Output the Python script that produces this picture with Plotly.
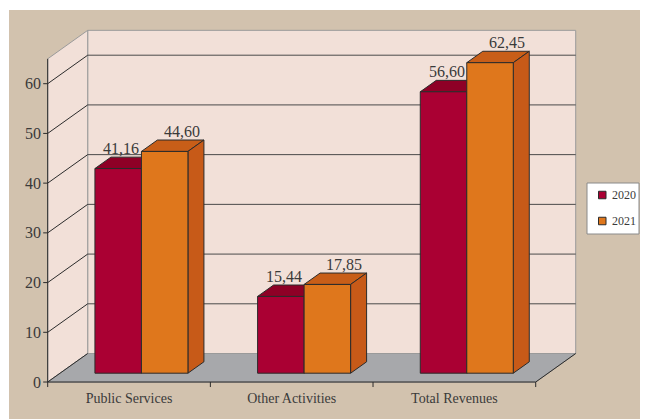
import plotly.graph_objects as go

categories = ["Public Services", "Other Activities", "Total Revenues"]
years = ["2020", "2021"]
revenue_2020 = [41.16, 15.44, 56.60]
revenue_2021 = [44.60, 17.85, 62.45]
y_ticks = [0, 10, 20, 30, 40, 50, 60]
y_max = 65

front_colors = ["#aa0033", "#df771c"]
top_colors = ["#8e0026", "#c85e18"]
side_colors = ["#84001f", "#c75a18"]
WALL = "#f2e0d8"
FLOOR = "#a7a8ab"
BEIGE = "#d2c2ae"
INK = "#3a3a3a"
GRID = "#4a4a4a"
EDGE = "#9a9a9a"
FONT = "Liberation Serif"

# the page body adds an 8px offset, so the figure is 8px smaller than the window
OFF = 8
W, H = 640, 411
margin = dict(l=34, r=70, t=21, b=31)
x_range = [-0.535, 2.76]
y_range = [-1.2, 71]
plot_w = W - margin["l"] - margin["r"]
plot_h = H - margin["t"] - margin["b"]
sx = plot_w / (x_range[1] - x_range[0])
sy = plot_h / (y_range[1] - y_range[0])

# 3d depth of the chart box, in data units
DX = 40 / sx
DY = 28.5 / sy
f0, f1 = 0.31, 0.71          # front / back face of the bars (fraction of depth)
bw = 46.5 / sx               # bar width
d, e = (f1 - f0) * DX, (f1 - f0) * DY
base = f0 * DY


def px_x(p):
    return (p - OFF - margin["l"]) / plot_w


def px_y(p):
    return (H - margin["b"] - (p - OFF)) / plot_h


def poly(pts, fill, line="#2b2b2b", width=1):
    path = "M " + " L ".join(f"{x},{y}" for x, y in pts) + " Z"
    return dict(type="path", path=path, fillcolor=fill, line=dict(color=line, width=width),
                xref="x", yref="y", layer="below")


def seg(x0, y0, x1, y1, color, width=1):
    return dict(type="line", x0=x0, y0=y0, x1=x1, y1=y1, line=dict(color=color, width=width),
                xref="x", yref="y", layer="below")


shapes = []
# page background
shapes.append(dict(type="rect", xref="paper", yref="paper", x0=px_x(9), x1=px_x(W + OFF + 2),
                   y0=px_y(H + OFF + 2), y1=px_y(10), fillcolor=BEIGE, line=dict(width=0),
                   layer="below"))

# walls and floor
shapes.append(poly([(-0.5 + DX, DY), (2.5 + DX, DY), (2.5 + DX, y_max + DY), (-0.5 + DX, y_max + DY)],
                   WALL, line=EDGE))
shapes.append(poly([(-0.5, 0), (-0.5, y_max), (-0.5 + DX, y_max + DY), (-0.5 + DX, DY)], WALL, line=EDGE))
shapes.append(poly([(-0.5, 0), (2.5, 0), (2.5 + DX, DY), (-0.5 + DX, DY)], FLOOR, line=EDGE))

for v in y_ticks:
    if v > 0:
        shapes.append(seg(-0.5 + DX, v + DY, 2.5 + DX, v + DY, GRID))
    shapes.append(seg(-0.5, v, -0.5 + DX, v + DY, "#2b2b2b"))
    shapes.append(seg(-0.5 - 4.5 / sx, v, -0.5, v, "#2b2b2b"))

shapes.append(seg(-0.5, 0, -0.5, y_max, "#2b2b2b"))
shapes.append(seg(-0.5, 0, 2.5, 0, "#2b2b2b"))
shapes.append(seg(2.5, 0, 2.5 + DX, DY, "#2b2b2b"))
for k in range(len(categories) + 1):
    shapes.append(seg(k - 0.5, 0, k - 0.5, -5 / sy, "#2b2b2b"))

fig = go.Figure()
annotations = []
label_shift = [3, 17]

for s, (name, vals) in enumerate(zip(years, [revenue_2020, revenue_2021])):
    xs = [i + f0 * DX + (s - 0.5) * bw for i in range(len(categories))]
    fig.add_trace(
        go.Bar(
            x=xs,
            y=vals,
            base=base,
            width=bw,
            name=name,
            marker=dict(color=front_colors[s], line=dict(color="#2b2b2b", width=1)),
            showlegend=False,
        )
    )
    for xc, v in zip(xs, vals):
        x0, x1, yt = xc - bw / 2, xc + bw / 2, base + v
        shapes.append(poly([(x0, yt), (x1, yt), (x1 + d, yt + e), (x0 + d, yt + e)], top_colors[s]))
        shapes.append(poly([(x1, base), (x1, yt), (x1 + d, yt + e), (x1 + d, base + e)], side_colors[s]))
        annotations.append(
            dict(x=xc, y=yt, xref="x", yref="y", text=f"{v:.2f}".replace(".", ","), showarrow=False,
                 yanchor="middle", xshift=label_shift[s], yshift=20,
                 font=dict(family=FONT, size=16, color=INK))
        )

# legend box
shapes.append(dict(type="rect", xref="paper", yref="paper", x0=px_x(587), x1=px_x(639), y0=px_y(234),
                   y1=px_y(183), fillcolor="white", line=dict(color="#8a8a8a", width=1)))
for s, name in enumerate(years):
    cy = 195 + 26 * s
    shapes.append(dict(type="rect", xref="paper", yref="paper", x0=px_x(598.5), x1=px_x(606),
                       y0=px_y(cy + 3.75), y1=px_y(cy - 3.75), fillcolor=front_colors[s],
                       line=dict(color="#2b2b2b", width=1)))
    annotations.append(dict(x=px_x(610), y=px_y(cy), xref="paper", yref="paper", text=name,
                            showarrow=False, xanchor="left", yanchor="middle",
                            font=dict(family=FONT, size=12, color=INK)))

fig.update_layout(
    width=W,
    height=H,
    margin=margin,
    paper_bgcolor="white",
    plot_bgcolor="rgba(0,0,0,0)",
    barmode="overlay",
    shapes=shapes,
    annotations=annotations,
    showlegend=False,
    xaxis=dict(range=x_range, tickvals=list(range(len(categories))), ticktext=categories, ticks="",
               showgrid=False, zeroline=False, showline=False, fixedrange=True,
               tickfont=dict(family=FONT, size=14, color=INK)),
    yaxis=dict(range=y_range, tickvals=y_ticks, ticks="", showgrid=False, zeroline=False,
               showline=False, fixedrange=True, tickfont=dict(family=FONT, size=16, color=INK)),
)

fig.write_html("out.html")
